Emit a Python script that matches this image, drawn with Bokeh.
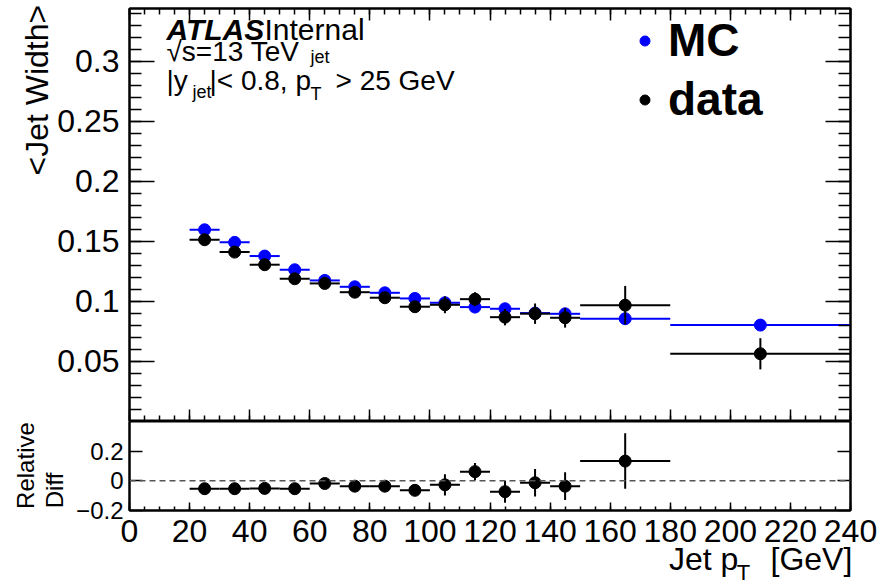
import math
from bokeh.plotting import figure
from bokeh.layouts import column
from bokeh.models import (Range1d, LinearAxis, FixedTicker, Label, Legend, LegendItem,
                          ColumnDataSource, Span, CustomJSTickFormatter)
from bokeh.embed import file_html
from bokeh.resources import INLINE

# ---------------- data ----------------
bin_low = [20, 30, 40, 50, 60, 70, 80, 90, 100, 110, 120, 130, 140, 150, 180]
bin_high = [30, 40, 50, 60, 70, 80, 90, 100, 110, 120, 130, 140, 150, 180, 240]
bin_center = [25, 35, 45, 55, 65, 75, 85, 95, 105, 115, 125, 135, 145, 165, 210]

mc_width = [0.1597, 0.1492, 0.1378, 0.1264, 0.1175, 0.1122, 0.1072, 0.1025,
            0.0989, 0.0953, 0.0939, 0.0903, 0.0897, 0.0856, 0.0803]
mc_err = [0.0004, 0.0004, 0.0004, 0.0004, 0.0004, 0.0004, 0.0005, 0.0005,
          0.0005, 0.0006, 0.0006, 0.0007, 0.0007, 0.0008, 0.0008]

data_width = [0.1514, 0.1411, 0.1306, 0.1189, 0.1150, 0.1077, 0.1031, 0.0956,
              0.0972, 0.1019, 0.0869, 0.0898, 0.0864, 0.0969, 0.0564]
data_err = [0.0015, 0.0015, 0.0017, 0.0020, 0.0022, 0.0025, 0.0030, 0.0035,
            0.0070, 0.0058, 0.0068, 0.0085, 0.0082, 0.0160, 0.0130]

ratio_low = [20, 30, 40, 50, 60, 70, 80, 90, 100, 110, 120, 130, 140, 150]
ratio_high = [30, 40, 50, 60, 70, 80, 90, 100, 110, 120, 130, 140, 150, 180]
ratio_center = [25, 35, 45, 55, 65, 75, 85, 95, 105, 115, 125, 135, 145, 165]
rel_diff = [-0.053, -0.053, -0.051, -0.053, -0.018, -0.036, -0.036, -0.064,
            -0.027, 0.062, -0.073, -0.013, -0.036, 0.133]
rel_diff_err = [0.010, 0.011, 0.013, 0.016, 0.019, 0.023, 0.028, 0.035,
                0.072, 0.058, 0.074, 0.093, 0.094, 0.187]

x_ticks = [0, 20, 40, 60, 80, 100, 120, 140, 160, 180, 200, 220, 240]
x_minor = list(range(0, 245, 5))
upper_y_ticks = [0.05, 0.1, 0.15, 0.2, 0.25, 0.3]
upper_y_labels = ["0.05", "0.1", "0.15", "0.2", "0.25", "0.3"]
upper_y_minor = [round(i * 0.01, 2) for i in range(0, 35)]
lower_y_ticks = [-0.2, 0.0, 0.2]
lower_y_labels = ["\u22120.2", "0", "0.2"]

# ---------------- layout constants ----------------
FONT = "Liberation Sans"
BLUE = "#0000ff"
FIG_W = 891
LEFT, RIGHT = 129, 41
UP_H = 421
UP_TOP = 8
LO_H = 167
LO_BOTTOM = 78
X_MIN, X_MAX = 0, 240
UP_Y = (0.0, 0.344)
LO_Y = (-0.2, 0.4)

FR_L = LEFT
FR_R = FIG_W - RIGHT
UP_T, UP_B = UP_TOP, UP_H
LO_T, LO_B = UP_H, UP_H + LO_H - LO_BOTTOM


def up_xy(px, py):
    x = X_MIN + (px - FR_L) / (FR_R - FR_L) * (X_MAX - X_MIN)
    y = UP_Y[0] + (UP_B - py) / (UP_B - UP_T) * (UP_Y[1] - UP_Y[0])
    return x, y


def px_to_x(px):
    return X_MIN + (px - FR_L) / (FR_R - FR_L) * (X_MAX - X_MIN)


def py_to_lo(py):
    return LO_Y[0] + (LO_B - py) / (LO_B - LO_T) * (LO_Y[1] - LO_Y[0])


EMPTY = CustomJSTickFormatter(code="return ''")


def style_axis(ax, tick_in, minor_in, labels=True, size="32px"):
    ax.major_tick_in = tick_in
    ax.major_tick_out = 0
    ax.minor_tick_in = minor_in
    ax.minor_tick_out = 0
    ax.major_tick_line_color = "black"
    ax.minor_tick_line_color = "black" if minor_in > 0 else None
    ax.major_tick_line_width = 1.5
    ax.minor_tick_line_width = 1.5
    ax.axis_line_color = "black"
    ax.axis_line_width = 2
    if labels:
        ax.major_label_text_font = FONT
        ax.major_label_text_font_size = size
        ax.major_label_text_color = "black"
    else:
        ax.formatter = EMPTY
        ax.major_label_text_font_size = "0px"
        ax.major_label_standoff = 0


def text_axis(fig, side, ticks, labels, size, standoff, orientation=None):
    """An axis with no line and no ticks, used only to place title texts."""
    ax = LinearAxis(ticker=FixedTicker(ticks=ticks, minor_ticks=[]))
    ax.major_label_overrides = dict(zip(ticks, labels))
    ax.axis_line_color = None
    ax.major_tick_line_color = None
    ax.minor_tick_line_color = None
    ax.major_tick_in = 0
    ax.major_tick_out = 0
    ax.minor_tick_in = 0
    ax.minor_tick_out = 0
    ax.major_label_standoff = standoff
    ax.major_label_text_font = FONT
    ax.major_label_text_font_size = size
    ax.major_label_text_color = "black"
    if orientation is not None:
        ax.major_label_orientation = orientation
    fig.add_layout(ax, side)
    return ax


def add_label(p, xy, text, size, style="normal", align="left"):
    lab = Label(x=xy[0], y=xy[1], x_units="data", y_units="data", text=text,
                text_font=FONT, text_font_size=size, text_font_style=style,
                text_color="black", text_align=align, text_baseline="alphabetic")
    p.add_layout(lab)


# ---------------- upper panel ----------------
p1 = figure(width=FIG_W, height=UP_H, x_range=Range1d(X_MIN, X_MAX),
            y_range=Range1d(*UP_Y), output_backend="svg", toolbar_location=None,
            min_border_left=LEFT, min_border_right=RIGHT, min_border_top=UP_TOP,
            min_border_bottom=0)
p1.xgrid.visible = False
p1.ygrid.visible = False
p1.outline_line_color = "black"
p1.outline_line_width = 2
p1.background_fill_color = "white"
p1.border_fill_color = "white"

p1.xaxis.ticker = FixedTicker(ticks=x_ticks, minor_ticks=x_minor)
style_axis(p1.xaxis[0], 12, 6, labels=False)
p1.yaxis.ticker = FixedTicker(ticks=upper_y_ticks, minor_ticks=upper_y_minor)
p1.yaxis.major_label_overrides = dict(zip(upper_y_ticks, upper_y_labels))
style_axis(p1.yaxis[0], 25, 12, labels=True, size="32px")
p1.yaxis.major_label_standoff = 10

top_ax = LinearAxis(ticker=FixedTicker(ticks=x_ticks, minor_ticks=x_minor))
style_axis(top_ax, 12, 6, labels=False)
p1.add_layout(top_ax, "above")
right_ax = LinearAxis(ticker=FixedTicker(ticks=upper_y_ticks, minor_ticks=upper_y_minor))
style_axis(right_ax, 25, 12, labels=False)
p1.add_layout(right_ax, "right")

# y-axis title, placed like ROOT (aligned to the top end)
text_axis(p1, "left", [0.276], ["<Jet Width>"], "32px", -1, "vertical")

mc_src = ColumnDataSource(dict(
    lo=bin_low, hi=bin_high, x=bin_center, y=mc_width,
    ylo=[v - e for v, e in zip(mc_width, mc_err)],
    yhi=[v + e for v, e in zip(mc_width, mc_err)]))
data_src = ColumnDataSource(dict(
    lo=bin_low, hi=bin_high, x=bin_center, y=data_width,
    ylo=[v - e for v, e in zip(data_width, data_err)],
    yhi=[v + e for v, e in zip(data_width, data_err)]))

p1.segment(x0="lo", y0="y", x1="hi", y1="y", source=mc_src, line_color=BLUE, line_width=2)
p1.segment(x0="x", y0="ylo", x1="x", y1="yhi", source=mc_src, line_color=BLUE, line_width=2)
mc_r = p1.scatter(x="x", y="y", source=mc_src, size=12, marker="circle",
                  fill_color=BLUE, line_color=BLUE)
p1.segment(x0="lo", y0="y", x1="hi", y1="y", source=data_src, line_color="black", line_width=2)
p1.segment(x0="x", y0="ylo", x1="x", y1="yhi", source=data_src, line_color="black", line_width=2)
data_r = p1.scatter(x="x", y="y", source=data_src, size=12, marker="circle",
                    fill_color="black", line_color="black")

legend = Legend(items=[LegendItem(label="MC", renderers=[mc_r]),
                       LegendItem(label="data", renderers=[data_r])],
                location=(503, 295), orientation="vertical",
                label_text_font=FONT, label_text_font_size="46px",
                label_text_font_style="bold", label_text_color="black",
                border_line_alpha=0, background_fill_alpha=0,
                padding=0, margin=0, spacing=5, glyph_width=25, glyph_height=25,
                label_standoff=11)
p1.add_layout(legend)

# text block
add_label(p1, up_xy(166, 29), "ATLAS", "30px", style="bold italic")
add_label(p1, up_xy(264, 29), "Internal", "30px")
add_label(p1, up_xy(166, 51), "\u221as=13 TeV", "28px")
add_label(p1, up_xy(166, 80), "|y", "28px")
add_label(p1, up_xy(192, 91), "jet", "18px")
add_label(p1, up_xy(209, 80), "|< 0.8, p", "28px")
add_label(p1, up_xy(310, 56), "jet", "18px")
add_label(p1, up_xy(310, 93), "T", "18px")
add_label(p1, up_xy(335, 80), "> 25 GeV", "28px")

# ---------------- lower panel ----------------
p2 = figure(width=FIG_W, height=LO_H, x_range=p1.x_range, y_range=Range1d(*LO_Y),
            output_backend="svg", toolbar_location=None,
            min_border_left=LEFT, min_border_right=RIGHT, min_border_top=0,
            min_border_bottom=LO_BOTTOM)
p2.xgrid.visible = False
p2.ygrid.visible = False
p2.outline_line_color = "black"
p2.outline_line_width = 2
p2.background_fill_color = "white"
p2.border_fill_color = "white"

p2.xaxis.ticker = FixedTicker(ticks=x_ticks, minor_ticks=x_minor)
style_axis(p2.xaxis[0], 8, 4, labels=True, size="32px")
p2.xaxis.major_label_standoff = 9
p2.yaxis.ticker = FixedTicker(ticks=lower_y_ticks)
p2.yaxis.major_label_overrides = dict(zip(lower_y_ticks, lower_y_labels))
style_axis(p2.yaxis[0], 13, 0, labels=True, size="24px")
p2.yaxis.major_label_standoff = 6

right_ax2 = LinearAxis(ticker=FixedTicker(ticks=lower_y_ticks))
style_axis(right_ax2, 13, 0, labels=False)
p2.add_layout(right_ax2, "right")

# lower y-axis title (two lines) and x-axis title, ROOT-style placement
text_axis(p2, "left", [round(py_to_lo(490), 3)], ["Diff"], "24px", 5, "vertical")
text_axis(p2, "left", [round(py_to_lo(465), 3)], ["Relative"], "24px", -1, "vertical")
text_axis(p2, "below", [round(px_to_x(703), 1), round(px_to_x(811), 1)],
          ["Jet p", "[GeV]"], "32px", -4)
text_axis(p2, "below", [round(px_to_x(743), 1)], ["T"], "22px", -20)

p2.add_layout(Span(location=0, dimension="width", line_color="#555555",
                   line_dash="6 4", line_width=1.5))

ratio_src = ColumnDataSource(dict(
    lo=ratio_low, hi=ratio_high, x=ratio_center, y=rel_diff,
    ylo=[v - e for v, e in zip(rel_diff, rel_diff_err)],
    yhi=[v + e for v, e in zip(rel_diff, rel_diff_err)]))
p2.segment(x0="lo", y0="y", x1="hi", y1="y", source=ratio_src, line_color="black", line_width=2)
p2.segment(x0="x", y0="ylo", x1="x", y1="yhi", source=ratio_src, line_color="black", line_width=2)
p2.scatter(x="x", y="y", source=ratio_src, size=12, marker="circle",
           fill_color="black", line_color="black")

layout = column(p1, p2, spacing=0)

with open("out.html", "w") as f:
    f.write(file_html(layout, INLINE))
